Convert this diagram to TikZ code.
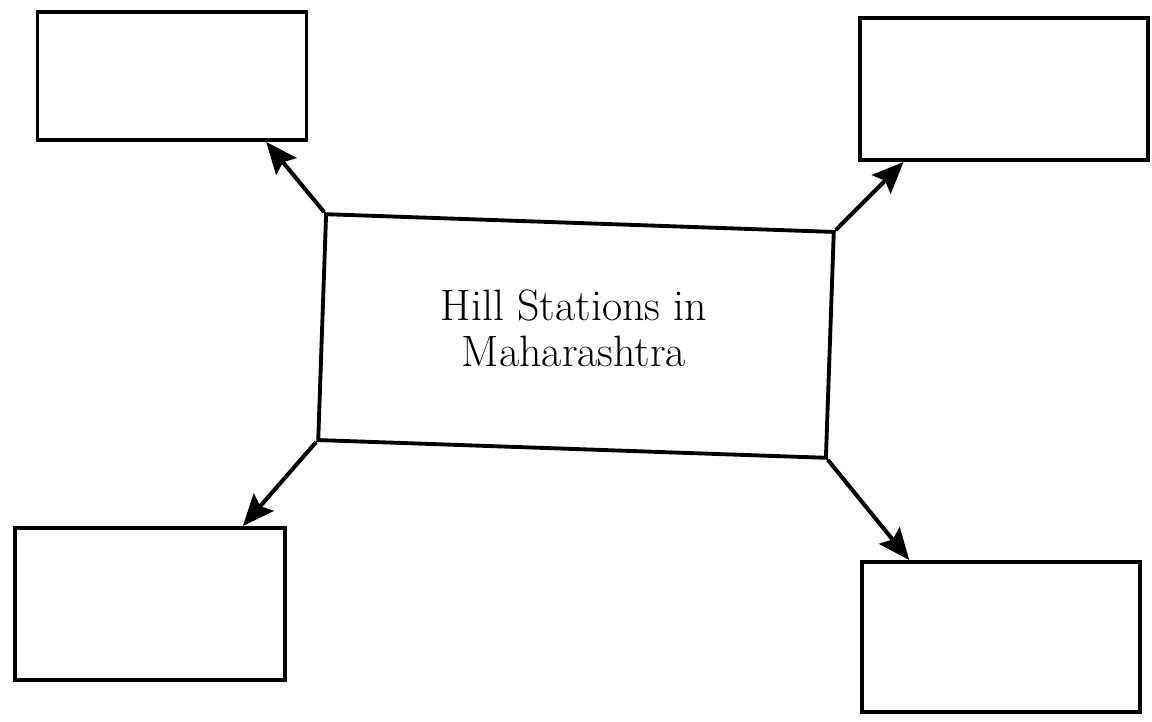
\documentclass[tikz,border=0pt]{standalone}
\usepackage{tikz}
\usetikzlibrary{arrows.meta, positioning}
\tikzset{
    box/.style={draw, line width=2.2pt, rectangle, inner sep=0pt},
    link/.style={-{Stealth[length=18pt, width=15pt, inset=3pt]}, line width=2.3pt},
    title/.style={align=center, font=\fontsize{25}{26}\selectfont}
}
\begin{document}
\begin{tikzpicture}[x=0.02cm, y=-0.02cm]
    \useasboundingbox (0,0) rectangle (1152,722);
    % Centre box
    \node[box, rotate=-2, minimum width=508*0.02cm, minimum height=226*0.02cm] (hub) at (576,336) {};
    \node[title] (name) at (574,328) {Hill Stations in\\Maharashtra};
    % Empty boxes
    \node[box, minimum width=269*0.02cm, minimum height=128*0.02cm] (tl) at (172,76) {};
    \node[box, minimum width=288*0.02cm, minimum height=142*0.02cm] (tr) at (1004,89) {};
    \node[box, minimum width=270*0.02cm, minimum height=152*0.02cm] (bl) at (150,604) {};
    \node[box, minimum width=278*0.02cm, minimum height=150*0.02cm] (br) at (1001,637) {};
    % Arrows
    \draw[link] (hub.north west) -- (tl.-35);
    \draw[link] (hub.north east) -- (tr.216);
    \draw[link] (hub.south west) -- (bl.40);
    \draw[link] (hub.south east) -- (br.140);
\end{tikzpicture}
\end{document}
